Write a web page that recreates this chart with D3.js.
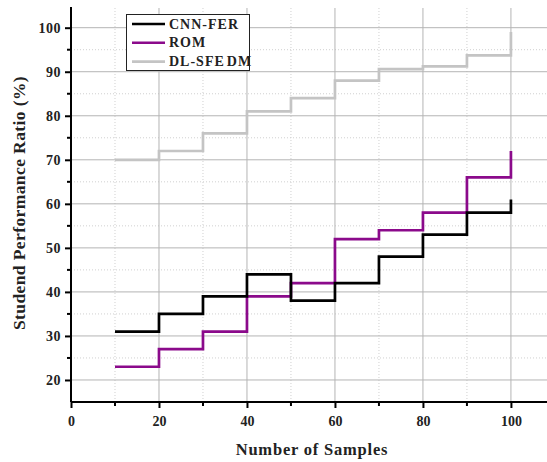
<!DOCTYPE html>
<html><head><meta charset="utf-8">
<script src="https://cdn.jsdelivr.net/npm/d3@7"></script>
<style>
body{margin:0;background:#fff;}
text{font-family:"Liberation Serif","Times New Roman",serif;font-weight:bold;}
</style></head>
<body><svg id="c" width="547" height="462"></svg>
<script>
const samples = [10,20,30,40,50,60,70,80,90,100];
const cnnFer = [31,35,39,44,38,42,48,53,58,61];
const rom = [23,27,31,39,42,52,54,58,66,72];
const dlSfedm = [70,72,76,81,84,88,90.6,91.2,93.7,99];
const seriesNames = ["CNN-FER","ROM","DL-SFE DM"];
const seriesColors = ["#000000","#8b0a8b","#c4c4c4"];
const xTicks = [0,20,40,60,80,100];
const yTicks = [20,30,40,50,60,70,80,90,100];

const svg = d3.select("#c");
const x = d3.scaleLinear().domain([0,108.2]).range([71,547]);
const y = d3.scaleLinear().domain([15,104.7]).range([402,7]);

// grid
const g = svg.append("g");
const xMinor = d3.range(10,101,20);
const yMinor = d3.range(25,101,10);
g.selectAll(".xm").data(xMinor).join("line").attr("x1",d=>x(d)).attr("x2",d=>x(d))
 .attr("y1",y(15)).attr("y2",8).attr("stroke","#d0d0d0").attr("stroke-dasharray","1,2");
g.selectAll(".ym").data(yMinor).join("line").attr("y1",d=>y(d)).attr("y2",d=>y(d))
 .attr("x1",x(0)).attr("x2",547).attr("stroke","#d0d0d0").attr("stroke-dasharray","1,2");
g.selectAll(".xg").data(xTicks.filter(d=>d>0)).join("line").attr("x1",d=>x(d)).attr("x2",d=>x(d))
 .attr("y1",y(15)).attr("y2",8).attr("stroke","#b4b4b4").attr("stroke-width",1);
g.selectAll(".yg").data(yTicks).join("line").attr("y1",d=>y(d)).attr("y2",d=>y(d))
 .attr("x1",x(0)).attr("x2",547).attr("stroke","#b4b4b4").attr("stroke-width",1);

// lines
const all = [cnnFer, rom, dlSfedm];
const line = d3.line().x((d,i)=>x(samples[i])).y(d=>y(d)).curve(d3.curveStepAfter);
[2,1,0].forEach(k=>{
  svg.append("path").attr("d",line(all[k])).attr("fill","none")
    .attr("stroke",seriesColors[k]).attr("stroke-width",2.7);
});

// axes
const xAxis = d3.axisBottom(x).tickValues(xTicks).tickSize(6).tickPadding(8).tickFormat(d3.format("d"));
const xa = svg.append("g").attr("transform",`translate(0,${y(15)})`).call(xAxis);
const yAxis = d3.axisLeft(y).tickValues(yTicks).tickSize(6).tickPadding(4).tickFormat(d3.format("d"));
const ya = svg.append("g").attr("transform",`translate(${x(0)},0)`).call(yAxis);
[xa,ya].forEach(a=>{
  a.select(".domain").attr("stroke","#000").attr("stroke-width",2);
  a.selectAll(".tick line").attr("stroke","#000").attr("stroke-width",2);
  a.selectAll("text").attr("font-size",14).attr("fill","#222")
   .attr("font-family","Liberation Serif").attr("font-weight","bold");
});
ya.selectAll("text").attr("letter-spacing",0.5);
xa.select(".domain").attr("d",`M${x(0)},0H547`);
ya.select(".domain").attr("d",`M0,${y(15)}V7`);
// minor ticks
svg.selectAll(".xmt").data(xMinor).join("line").attr("x1",d=>x(d)).attr("x2",d=>x(d))
 .attr("y1",y(15)).attr("y2",y(15)+4).attr("stroke","#000").attr("stroke-width",2);
svg.selectAll(".ymt").data(yMinor).join("line").attr("y1",d=>y(d)).attr("y2",d=>y(d))
 .attr("x1",x(0)).attr("x2",x(0)-4).attr("stroke","#000").attr("stroke-width",2);

// titles
svg.append("text").attr("x",312).attr("y",455).attr("text-anchor","middle")
 .attr("font-size",16.5).attr("letter-spacing",0.8).attr("fill","#222").text("Number of Samples");
svg.append("text").attr("transform","translate(25,203) rotate(-90)").attr("text-anchor","middle")
 .attr("font-size",17.5).attr("letter-spacing",0.4).attr("fill","#222").text("Studend Performance Ratio (%)");

// legend
const lg = svg.append("g");
lg.append("rect").attr("x",126.5).attr("y",14.5).attr("width",123).attr("height",56)
 .attr("fill","#fff").attr("stroke","#222").attr("stroke-width",1);
seriesNames.forEach((n,i)=>{
  const yy = 24 + i*18.8;
  lg.append("line").attr("x1",132).attr("x2",165).attr("y1",yy).attr("y2",yy)
   .attr("stroke",seriesColors[i]).attr("stroke-width",2.6);
  lg.append("text").attr("x",169).attr("y",yy+4.5).attr("font-size",14).attr("letter-spacing",1)
   .attr("word-spacing",-2.5).attr("fill","#222").text(n);
});
</script></body></html>
